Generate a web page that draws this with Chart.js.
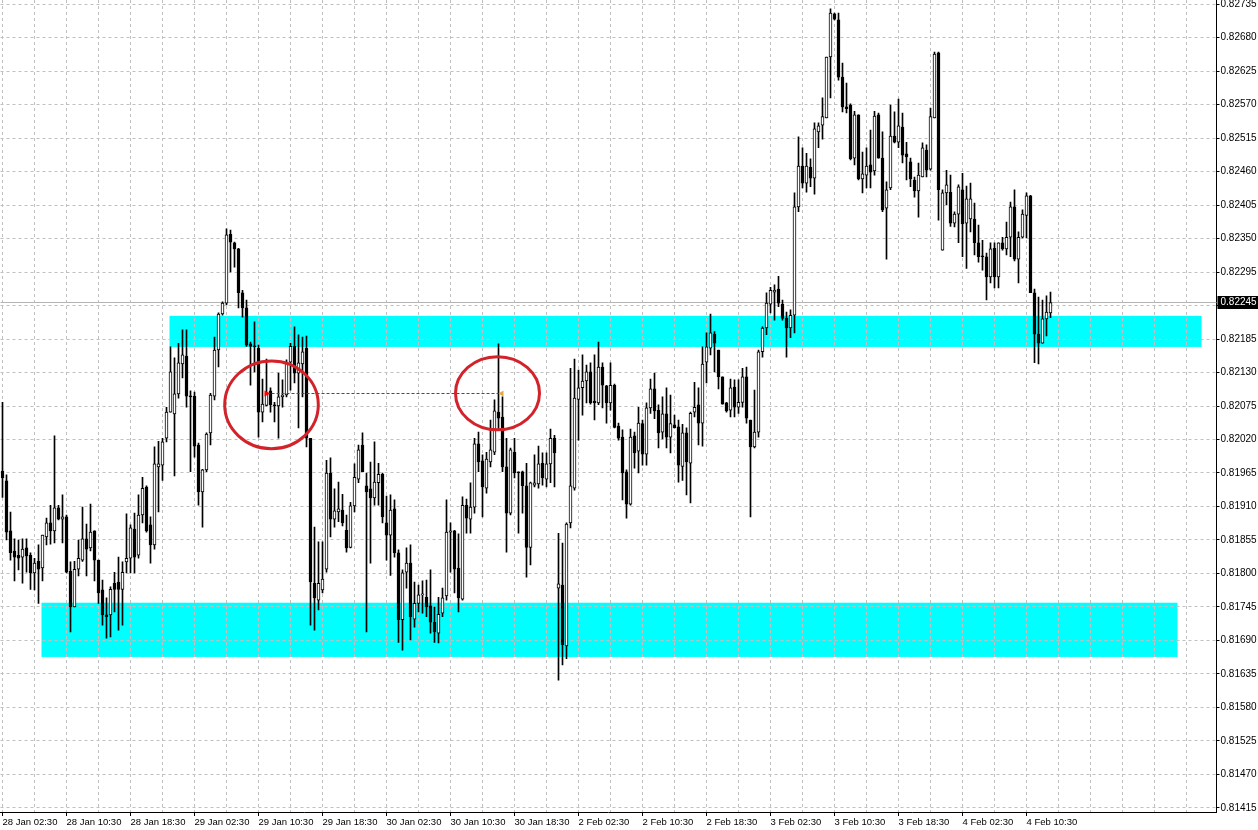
<!DOCTYPE html>
<html>
<head>
<meta charset="utf-8">
<script src="https://cdn.jsdelivr.net/npm/chart.js@4/dist/chart.umd.min.js"></script>
<style>
html, body { margin: 0; padding: 0; background: #fff; }
#wrap { width: 1258px; height: 830px; }
</style>
</head>
<body>
<div id="wrap"><canvas id="c" width="1258" height="830"></canvas></div>
<script>
// M30 candles
const opens = [
  0.81968,0.81952,0.81870,0.81837,0.81830,0.81827,0.81842,0.81830,0.81801,0.81820,
  0.81809,0.81860,0.81883,0.81870,0.81908,0.81889,0.81893,0.81804,0.81745,0.81807,
  0.81822,0.81857,0.81842,0.81870,0.81822,0.81773,0.81732,0.81732,0.81784,0.81786,
  0.81774,0.81819,0.81825,0.81873,0.81830,0.81896,0.81942,0.81880,0.81847,0.81975,
  0.81978,0.82022,0.82065,0.82062,0.82095,0.82144,0.82157,0.82091,0.82091,0.82011,
  0.81934,0.81970,0.82031,0.82091,0.82167,0.82226,0.82244,0.82357,0.82343,0.82333,
  0.82261,0.82236,0.82177,0.82173,0.82170,0.82065,0.82076,0.82100,0.82077,0.82075,
  0.82090,0.82093,0.82147,0.82173,0.82129,0.82144,0.82170,0.82022,0.81784,0.81756,
  0.81773,0.81807,0.81965,0.81889,0.81901,0.81904,0.81871,0.81843,0.81911,0.81955,
  0.82011,0.81944,0.81939,0.81924,0.81949,0.81963,0.81883,0.81863,0.81906,0.81834,
  0.81724,0.81802,0.81817,0.81725,0.81751,0.81765,0.81761,0.81747,0.81720,0.81702,
  0.81735,0.81763,0.81868,0.81870,0.81809,0.81758,0.81912,0.81889,0.81909,0.82013,
  0.81985,0.81940,0.81983,0.81999,0.82065,0.82057,0.81975,0.81899,0.81999,0.81967,
  0.81967,0.81944,0.81843,0.81945,0.81947,0.81981,0.81955,0.81980,0.82022,0.81776,
  0.81781,0.81681,0.81883,0.81940,0.82086,0.82105,0.82116,0.82131,0.82083,0.82080,
  0.82139,0.82108,0.82080,0.82109,0.82042,0.82024,0.81967,0.81914,0.82026,0.82001,
  0.82046,0.81996,0.82072,0.82103,0.82068,0.82032,0.82062,0.82024,0.82044,0.82041,
  0.81976,0.82031,0.81981,0.82065,0.82077,0.82047,0.82147,0.82170,0.82193,0.82167,
  0.82123,0.82080,0.82068,0.82106,0.82073,0.82081,0.82123,0.82052,0.82008,0.82032,
  0.82164,0.82203,0.82242,0.82262,0.82267,0.82242,0.82219,0.82203,0.82224,0.82402,
  0.82469,0.82441,0.82467,0.82449,0.82525,0.82536,0.82548,0.82648,0.82719,0.82709,
  0.82615,0.82566,0.82569,0.82482,0.82553,0.82448,0.82454,0.82471,0.82461,0.82553,
  0.82482,0.82400,0.82433,0.82518,0.82508,0.82533,0.82489,0.82476,0.82446,0.82428,
  0.82451,0.82495,0.82464,0.82548,0.82655,0.82331,0.82425,0.82426,0.82375,0.82390,
  0.82430,0.82375,0.82382,0.82382,0.82343,0.82321,0.82320,0.82287,0.82334,0.82287,
  0.82343,0.82333,0.82352,0.82402,0.82316,0.82352,0.82388,0.82420,0.82261,0.82193,
  0.82178,0.82218,0.82228
];
const highs = [
  0.82081,0.81962,0.81901,0.81857,0.81855,0.81857,0.81857,0.81834,0.81825,0.81847,
  0.81863,0.81891,0.81912,0.82026,0.81912,0.81929,0.81896,0.81819,0.81820,0.81855,
  0.81909,0.81881,0.81914,0.81870,0.81822,0.81789,0.81760,0.81778,0.81802,0.81827,
  0.81819,0.81898,0.81880,0.81899,0.81929,0.81958,0.81944,0.81893,0.82008,0.82017,
  0.82022,0.82073,0.82172,0.82154,0.82178,0.82200,0.82200,0.82100,0.82098,0.82014,
  0.81971,0.82031,0.82096,0.82188,0.82228,0.82246,0.82366,0.82364,0.82344,0.82334,
  0.82265,0.82249,0.82180,0.82213,0.82175,0.82119,0.82152,0.82105,0.82081,0.82129,
  0.82118,0.82151,0.82178,0.82205,0.82192,0.82188,0.82190,0.82022,0.81876,0.81852,
  0.81852,0.81986,0.81990,0.81939,0.81950,0.81930,0.81896,0.81917,0.81980,0.82011,
  0.82031,0.81965,0.81983,0.82016,0.81981,0.81965,0.81927,0.81929,0.81921,0.81839,
  0.81806,0.81842,0.81847,0.81786,0.81781,0.81788,0.81789,0.81806,0.81745,0.81761,
  0.81776,0.81921,0.81883,0.81871,0.81865,0.81926,0.81922,0.81949,0.82022,0.82032,
  0.81995,0.81999,0.82052,0.82085,0.82177,0.82090,0.82022,0.82006,0.82022,0.81967,
  0.81968,0.81981,0.81950,0.81995,0.82009,0.81998,0.81998,0.82037,0.82027,0.81866,
  0.81850,0.81883,0.82137,0.82152,0.82134,0.82159,0.82142,0.82146,0.82159,0.82180,
  0.82146,0.82109,0.82146,0.82111,0.82047,0.82036,0.81970,0.82037,0.82032,0.82073,
  0.82052,0.82080,0.82119,0.82129,0.82077,0.82090,0.82105,0.82093,0.82060,0.82052,
  0.82045,0.82039,0.82065,0.82114,0.82105,0.82172,0.82195,0.82226,0.82197,0.82167,
  0.82123,0.82081,0.82119,0.82118,0.82118,0.82137,0.82139,0.82052,0.82101,0.82167,
  0.82205,0.82261,0.82270,0.82274,0.82288,0.82249,0.82229,0.82233,0.82425,0.82517,
  0.82499,0.82490,0.82481,0.82540,0.82540,0.82581,0.82648,0.82727,0.82720,0.82720,
  0.82638,0.82605,0.82571,0.82559,0.82553,0.82492,0.82499,0.82528,0.82559,0.82556,
  0.82525,0.82443,0.82569,0.82558,0.82579,0.82556,0.82508,0.82482,0.82451,0.82474,
  0.82507,0.82504,0.82564,0.82656,0.82656,0.82430,0.82462,0.82454,0.82394,0.82438,
  0.82457,0.82436,0.82441,0.82408,0.82372,0.82347,0.82326,0.82343,0.82343,0.82343,
  0.82352,0.82377,0.82410,0.82430,0.82361,0.82397,0.82425,0.82421,0.82267,0.82254,
  0.82249,0.82256,0.82262
];
const lows = [
  0.81925,0.81855,0.81822,0.81788,0.81806,0.81784,0.81802,0.81774,0.81773,0.81751,
  0.81788,0.81847,0.81848,0.81850,0.81888,0.81850,0.81801,0.81704,0.81745,0.81796,
  0.81820,0.81796,0.81837,0.81788,0.81751,0.81715,0.81694,0.81696,0.81737,0.81707,
  0.81715,0.81801,0.81801,0.81801,0.81825,0.81883,0.81868,0.81817,0.81840,0.81901,
  0.81953,0.82016,0.82065,0.81960,0.82088,0.82121,0.82073,0.81967,0.81991,0.81912,
  0.81876,0.81967,0.82011,0.82085,0.82139,0.82224,0.82241,0.82295,0.82303,0.82236,
  0.82221,0.82173,0.82109,0.82131,0.82024,0.82049,0.82075,0.82065,0.82049,0.82022,
  0.82073,0.82090,0.82101,0.82113,0.82039,0.82090,0.82008,0.81715,0.81707,0.81740,
  0.81768,0.81802,0.81860,0.81876,0.81885,0.81878,0.81835,0.81842,0.81901,0.81949,
  0.81967,0.81704,0.81817,0.81912,0.81912,0.81883,0.81822,0.81797,0.81827,0.81687,
  0.81674,0.81776,0.81691,0.81712,0.81737,0.81735,0.81729,0.81702,0.81687,0.81686,
  0.81729,0.81756,0.81802,0.81768,0.81737,0.81756,0.81866,0.81866,0.81899,0.81967,
  0.81893,0.81932,0.81975,0.81995,0.82036,0.81967,0.81835,0.81896,0.81957,0.81866,
  0.81899,0.81794,0.81814,0.81942,0.81940,0.81945,0.81942,0.81949,0.81942,0.81625,
  0.81650,0.81660,0.81875,0.81937,0.82019,0.82060,0.82080,0.82078,0.82052,0.82077,
  0.82072,0.82047,0.82068,0.82039,0.82019,0.81921,0.81891,0.81912,0.81973,0.81965,
  0.81978,0.81978,0.82063,0.82054,0.82006,0.82021,0.82006,0.81998,0.82039,0.81950,
  0.81953,0.81929,0.81916,0.82057,0.82011,0.82009,0.82113,0.82159,0.82131,0.82103,
  0.82078,0.82065,0.82057,0.82057,0.82063,0.82073,0.82047,0.81893,0.82006,0.82024,
  0.82155,0.82192,0.82228,0.82216,0.82238,0.82216,0.82155,0.82187,0.82195,0.82394,
  0.82433,0.82426,0.82435,0.82423,0.82499,0.82513,0.82548,0.82581,0.82709,0.82610,
  0.82558,0.82556,0.82479,0.82471,0.82446,0.82425,0.82433,0.82433,0.82454,0.82482,
  0.82394,0.82316,0.82430,0.82507,0.82499,0.82474,0.82446,0.82435,0.82418,0.82385,
  0.82451,0.82451,0.82462,0.82548,0.82380,0.82331,0.82405,0.82370,0.82369,0.82343,
  0.82320,0.82301,0.82361,0.82323,0.82311,0.82298,0.82249,0.82277,0.82269,0.82269,
  0.82331,0.82323,0.82320,0.82313,0.82277,0.82351,0.82351,0.82261,0.82146,0.82144,
  0.82178,0.82190,0.82220
];
const closes = [
  0.81957,0.81868,0.81834,0.81827,0.81825,0.81840,0.81829,0.81801,0.81817,0.81807,
  0.81863,0.81883,0.81870,0.81908,0.81889,0.81893,0.81802,0.81745,0.81807,0.81825,
  0.81857,0.81840,0.81868,0.81822,0.81768,0.81732,0.81729,0.81774,0.81774,0.81774,
  0.81802,0.81825,0.81875,0.81827,0.81896,0.81940,0.81870,0.81847,0.81980,0.81980,
  0.82016,0.82065,0.82131,0.82095,0.82146,0.82159,0.82091,0.82090,0.82009,0.81934,
  0.81970,0.82029,0.82093,0.82167,0.82226,0.82244,0.82356,0.82344,0.82333,0.82261,
  0.82236,0.82175,0.82173,0.82172,0.82065,0.82078,0.82096,0.82077,0.82075,0.82090,
  0.82093,0.82147,0.82173,0.82129,0.82146,0.82164,0.82022,0.81786,0.81760,0.81784,
  0.81791,0.81965,0.81889,0.81903,0.81906,0.81883,0.81842,0.81911,0.81958,0.82003,
  0.81967,0.81934,0.81924,0.81950,0.81963,0.81893,0.81863,0.81904,0.81834,0.81724,
  0.81801,0.81817,0.81729,0.81751,0.81765,0.81766,0.81745,0.81720,0.81704,0.81733,
  0.81760,0.81868,0.81870,0.81807,0.81760,0.81912,0.81891,0.81909,0.82013,0.81983,
  0.81942,0.81988,0.82003,0.82067,0.82055,0.81975,0.81899,0.82003,0.81965,0.81965,
  0.81944,0.81843,0.81949,0.81949,0.81980,0.81957,0.81980,0.82022,0.81998,0.81783,
  0.81683,0.81881,0.81944,0.82088,0.82105,0.82116,0.82131,0.82080,0.82080,0.82139,
  0.82109,0.82080,0.82109,0.82040,0.82022,0.81965,0.81914,0.82024,0.81998,0.82047,
  0.81996,0.82072,0.82103,0.82067,0.82031,0.82062,0.82024,0.82046,0.82039,0.81978,
  0.82031,0.81983,0.82063,0.82073,0.82047,0.82144,0.82172,0.82195,0.82178,0.82123,
  0.82078,0.82067,0.82105,0.82073,0.82081,0.82123,0.82055,0.82008,0.82032,0.82164,
  0.82203,0.82244,0.82265,0.82265,0.82244,0.82219,0.82203,0.82224,0.82402,0.82469,
  0.82441,0.82469,0.82449,0.82530,0.82535,0.82550,0.82648,0.82720,0.82710,0.82615,
  0.82566,0.82563,0.82481,0.82553,0.82448,0.82456,0.82469,0.82459,0.82551,0.82482,
  0.82397,0.82430,0.82518,0.82508,0.82535,0.82487,0.82484,0.82448,0.82428,0.82454,
  0.82499,0.82462,0.82550,0.82653,0.82430,0.82425,0.82438,0.82375,0.82390,0.82435,
  0.82374,0.82415,0.82415,0.82343,0.82320,0.82320,0.82287,0.82333,0.82287,0.82343,
  0.82333,0.82352,0.82402,0.82316,0.82352,0.82390,0.82420,0.82261,0.82193,0.82178,
  0.82218,0.82229,0.82245
];

// one label every 16 bars
const timeLabels = [
  "28 Jan 02:30","28 Jan 10:30","28 Jan 18:30","29 Jan 02:30","29 Jan 10:30",
  "29 Jan 18:30","30 Jan 02:30","30 Jan 10:30","30 Jan 18:30","2 Feb 02:30",
  "2 Feb 10:30","2 Feb 18:30","3 Feb 02:30","3 Feb 10:30","3 Feb 18:30",
  "4 Feb 02:30","4 Feb 10:30"
];
const priceTicks = [
  0.81415,0.81470,0.81525,0.81580,0.81635,0.81690,0.81745,0.81800,0.81855,
  0.81910,0.81965,0.82020,0.82075,0.82130,0.82185,0.82240,0.82295,0.82350,
  0.82405,0.82460,0.82515,0.82570,0.82625,0.82680,0.82735
];

// drawn objects, in bar index / price units
const zones = [
  { from: 41.75, to: 299.75, top: 0.82223, bottom: 0.82172 },
  { from: 9.75, to: 293.75, top: 0.81752, bottom: 0.81663 }
];
const circles = [
  { x: 67.25, y: 0.82077, rx: 11.7, ry: 0.00072 },
  { x: 123.75, y: 0.82096, rx: 10.5, ry: 0.00060 }
];
const tradeLine = { from: 66, to: 124, price: 0.82096 };

const SLOTS = 304;
const labels = Array.from({length: SLOTS}, (_, i) =>
  (i % 16 === 0 && timeLabels[i / 16]) ? timeLabels[i / 16] : "");
const wicks = lows.map((l, i) => [l, highs[i]]);
const bodies = opens.map((o, i) => [Math.min(o, closes[i]), Math.max(o, closes[i])]);
const bodyFill = opens.map((o, i) => closes[i] > o ? "#ffffff" : "#000000");
const lastPrice = closes[closes.length - 1];

const overlay = {
  id: "overlay",
  beforeDraw(chart){
    const {ctx, scales: {x, y}} = chart;
    ctx.save();
    ctx.fillStyle = "#ffffff";
    ctx.fillRect(0, 0, chart.width, chart.height);
    ctx.fillStyle = "#00ffff";
    for(const z of zones){
      const x1 = x.getPixelForValue(z.from), x2 = x.getPixelForValue(z.to);
      const y1 = y.getPixelForValue(z.top), y2 = y.getPixelForValue(z.bottom);
      ctx.fillRect(x1, y1, x2 - x1, y2 - y1);
    }
    ctx.restore();
  },
  beforeDatasetsDraw(chart){
    const {ctx, chartArea: a, scales: {y}} = chart;
    const py = Math.round(y.getPixelForValue(lastPrice)) + 0.5;
    ctx.save();
    ctx.strokeStyle = "#b4b4b4";
    ctx.lineWidth = 1;
    ctx.beginPath();
    ctx.moveTo(a.left, py);
    ctx.lineTo(a.right, py);
    ctx.stroke();
    ctx.restore();
  },
  afterDatasetsDraw(chart){
    const {ctx, scales: {x, y}} = chart;
    ctx.save();
    // dotted trade line
    const ly = Math.round(y.getPixelForValue(tradeLine.price)) + 0.5;
    const lx1 = x.getPixelForValue(tradeLine.from), lx2 = x.getPixelForValue(tradeLine.to);
    ctx.strokeStyle = "#ff0000";
    ctx.lineWidth = 1;
    ctx.setLineDash([3, 2]);
    ctx.beginPath();
    ctx.moveTo(lx1, ly);
    ctx.lineTo(lx2, ly);
    ctx.stroke();
    ctx.setLineDash([]);
    ctx.fillStyle = "#ff0000";
    ctx.beginPath();
    ctx.moveTo(lx1 - 2, ly - 3);
    ctx.lineTo(lx1 + 4, ly);
    ctx.lineTo(lx1 - 2, ly + 3);
    ctx.closePath();
    ctx.fill();
    ctx.fillStyle = "#e8a838";
    ctx.beginPath();
    ctx.moveTo(lx2, ly);
    ctx.lineTo(lx2 + 5, ly - 3);
    ctx.lineTo(lx2 + 5, ly + 3);
    ctx.closePath();
    ctx.fill();
    // circles
    ctx.strokeStyle = "#d2232a";
    ctx.lineWidth = 3;
    for(const c of circles){
      const cx = x.getPixelForValue(c.x), cy = y.getPixelForValue(c.y);
      const rx = Math.abs(x.getPixelForValue(c.x + c.rx) - cx);
      const ry = Math.abs(y.getPixelForValue(c.y + c.ry) - cy);
      ctx.beginPath();
      ctx.ellipse(cx, cy, rx, ry, 0, 0, Math.PI * 2);
      ctx.stroke();
    }
    ctx.restore();
  },
  afterDraw(chart){
    const {ctx, chartArea: a, scales: {y}} = chart;
    const py = Math.round(y.getPixelForValue(lastPrice));
    ctx.save();
    ctx.fillStyle = "#000000";
    ctx.fillRect(a.right + 1, py - 6, chart.width - a.right - 1, 13);
    ctx.fillStyle = "#ffffff";
    ctx.font = "10px 'Liberation Sans', Arial, sans-serif";
    ctx.textBaseline = "middle";
    ctx.fillText(lastPrice.toFixed(5), a.right + 4, py + 0.5);
    ctx.restore();
  }
};

new Chart(document.getElementById("c"), {
  type: "bar",
  data: {
    labels,
    datasets: [
      {
        data: bodies,
        backgroundColor: bodyFill,
        borderColor: "#000000",
        borderWidth: 1,
        borderSkipped: false,
        barThickness: 3,
        minBarLength: 1,
        grouped: false,
        order: 1
      },
      {
        data: wicks,
        backgroundColor: "#000000",
        borderWidth: 0,
        barThickness: 1,
        grouped: false,
        order: 2
      }
    ]
  },
  options: {
    responsive: false,
    animation: false,
    events: [],
    layout: { padding: { left: 0.5, right: 0, top: 0, bottom: 0 } },
    plugins: { legend: { display: false }, tooltip: { enabled: false } },
    scales: {
      x: {
        type: "category",
        offset: true,
        grid: {
          offset: false,
          color: c => c.index % 8 === 0 ? "#c0c0c0" : "rgba(0,0,0,0)",
          tickLength: 4,
          tickColor: c => (c.index % 16 === 0 && c.index / 16 < timeLabels.length) ? "#000000" : "rgba(0,0,0,0)"
        },
        border: { display: true, color: "#000000", width: 1, dash: [3, 3] },
        ticks: {
          autoSkip: false,
          maxRotation: 0,
          minRotation: 0,
          align: "start",
          padding: 1,
          color: "#000000",
          font: { family: "'Liberation Sans', Arial, sans-serif", size: 9.5 }
        },
        afterFit: s => { s.height = 18; s.paddingLeft = 0; s.paddingRight = 0; }
      },
      y: {
        type: "linear",
        position: "right",
        min: 0.814084,
        max: 0.827416,
        afterBuildTicks: s => { s.ticks = priceTicks.map(v => ({ value: v })); },
        grid: { color: "#c0c0c0", tickLength: 3, tickColor: "#000000" },
        border: { display: true, color: "#000000", width: 1, dash: [3, 3] },
        ticks: {
          padding: 1,
          color: "#000000",
          font: { family: "'Liberation Sans', Arial, sans-serif", size: 10 },
          callback: v => Number(v).toFixed(5)
        },
        afterFit: s => { s.width = 41.5; s.paddingTop = 0; s.paddingBottom = 0; }
      }
    }
  },
  plugins: [overlay]
});
</script>
</body>
</html>
